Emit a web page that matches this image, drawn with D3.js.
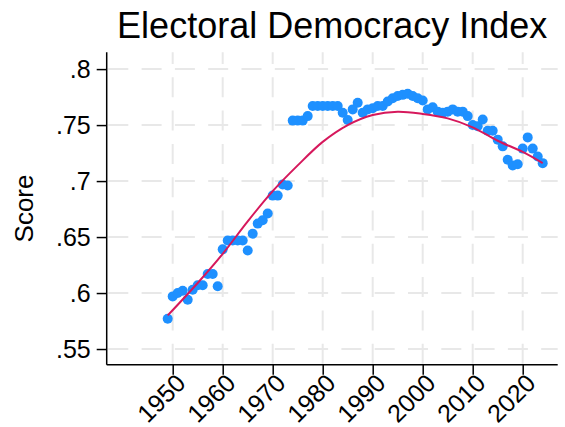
<!DOCTYPE html>
<html>
<head>
<meta charset="utf-8">
<script src="https://cdnjs.cloudflare.com/ajax/libs/d3/7.8.5/d3.min.js"></script>
<style>
    body { margin: 0; background: #fff; }
    text { font-family: "Liberation Sans", Arial, Helvetica, sans-serif; fill: #000; }
</style>
</head>
<body>
<div id="chart"></div>
<script>
// scores by year
var years = d3.range(1949, 2025);
var scores = [
    .577, .597, .600, .602, .594, .603, .607, .607, .617, .617, .606,
    .639, .647, .647, .647, .647, .638, .653, .662, .665, .671,
    .687, .687, .697, .696, .754, .754, .754, .758, .767, .767,
    .767, .767, .767, .767, .761, .7545, .764, .770, .761, .764,
    .765, .767, .767, .771, .774, .776, .777, .778, .776, .774,
    .772, .764, .766, .762, .761, .762, .764, .762, .762, .758,
    .750, .749, .755, .745, .745, .737, .731, .719, .714, .715,
    .729, .739, .729, .722, .716
];
// smoothed line (lowess)
var fitYears = [1949, 1955, 1960, 1965, 1970, 1975, 1980, 1985, 1990, 1995, 2000, 2005, 2010, 2015, 2020, 2024];
var fitValues = [.580, .609, .635, .664, .691, .714, .735, .750, .759, .762, .760, .756, .748, .736, .726, .716];

var xTicks = [1950, 1960, 1970, 1980, 1990, 2000, 2010, 2020];
var yTicks = [.55, .6, .65, .7, .75, .8];
var yTickLabels = [".55", ".6", ".65", ".7", ".75", ".8"];

var width = 565, height = 427;
var plotLeft = 106.7, plotRight = 557.7, plotTop = 52.3, plotBottom = 364.7;

var svg = d3.select("#chart").append("svg")
    .attr("width", width)
    .attr("height", height);

var x = d3.scaleLinear().domain([1936.8, 2027]).range([plotLeft, plotRight]);
var y = d3.scaleLinear().domain([.536, .815]).range([plotBottom, plotTop]);

// grid
svg.append("g").selectAll("line")
    .data(yTicks)
    .enter().append("line")
    .attr("x1", plotLeft + 1.6).attr("x2", plotRight)
    .attr("y1", function(d) { return y(d); })
    .attr("y2", function(d) { return y(d); })
    .attr("stroke", "#e8e8e8").attr("stroke-width", 2)
    .attr("stroke-dasharray", "20,13.3");

svg.append("g").selectAll("line")
    .data(xTicks)
    .enter().append("line")
    .attr("x1", function(d) { return x(d); })
    .attr("x2", function(d) { return x(d); })
    .attr("y1", plotBottom - 1).attr("y2", plotTop)
    .attr("stroke", "#e8e8e8").attr("stroke-width", 2)
    .attr("stroke-dasharray", "20,13.3");

// points
svg.append("g").selectAll("circle")
    .data(years)
    .enter().append("circle")
    .attr("cx", function(d) { return x(d); })
    .attr("cy", function(d, i) { return y(scores[i]); })
    .attr("r", 5)
    .attr("fill", "#1e90ff");

// fitted line
var line = d3.line()
    .x(function(d) { return x(d); })
    .y(function(d, i) { return y(fitValues[i]); })
    .curve(d3.curveCatmullRom);

svg.append("path")
    .datum(fitYears)
    .attr("d", line)
    .attr("fill", "none")
    .attr("stroke", "#d6185c")
    .attr("stroke-width", 2);

// axes
var yAxis = d3.axisLeft(y)
    .tickValues(yTicks)
    .tickSize(10)
    .tickPadding(6)
    .tickFormat(function(d, i) { return yTickLabels[i]; });

var gy = svg.append("g")
    .attr("transform", "translate(" + plotLeft + ",0)")
    .call(yAxis);
gy.select(".domain").attr("d", "M0," + plotTop + "V" + plotBottom).attr("stroke-width", 1.5);
gy.selectAll(".tick line").attr("stroke-width", 1.5);
gy.selectAll(".tick text").style("font-size", "25px").attr("font-family", null);

var xAxis = d3.axisBottom(x)
    .tickValues(xTicks)
    .tickSize(10)
    .tickFormat(d3.format("d"));

var gx = svg.append("g")
    .attr("transform", "translate(0," + plotBottom + ")")
    .call(xAxis);
gx.select(".domain").attr("d", "M" + plotLeft + ",0H" + plotRight).attr("stroke-width", 1.5);
gx.selectAll(".tick line").attr("stroke-width", 1.5);
gx.selectAll(".tick text")
    .style("font-size", "25px")
    .attr("font-family", null)
    .attr("text-anchor", "end")
    .attr("y", 0).attr("dy", 0)
    .attr("transform", "translate(14,20) rotate(-45)");

// title + y label
svg.append("text")
    .attr("x", (plotLeft + plotRight) / 2)
    .attr("y", 38)
    .attr("text-anchor", "middle")
    .style("font-size", "36px")
    .text("Electoral Democracy Index");

svg.append("text")
    .attr("transform", "translate(33," + ((plotTop + plotBottom) / 2) + ") rotate(-90)")
    .attr("text-anchor", "middle")
    .style("font-size", "26px")
    .text("Score");
</script>
</body>
</html>
